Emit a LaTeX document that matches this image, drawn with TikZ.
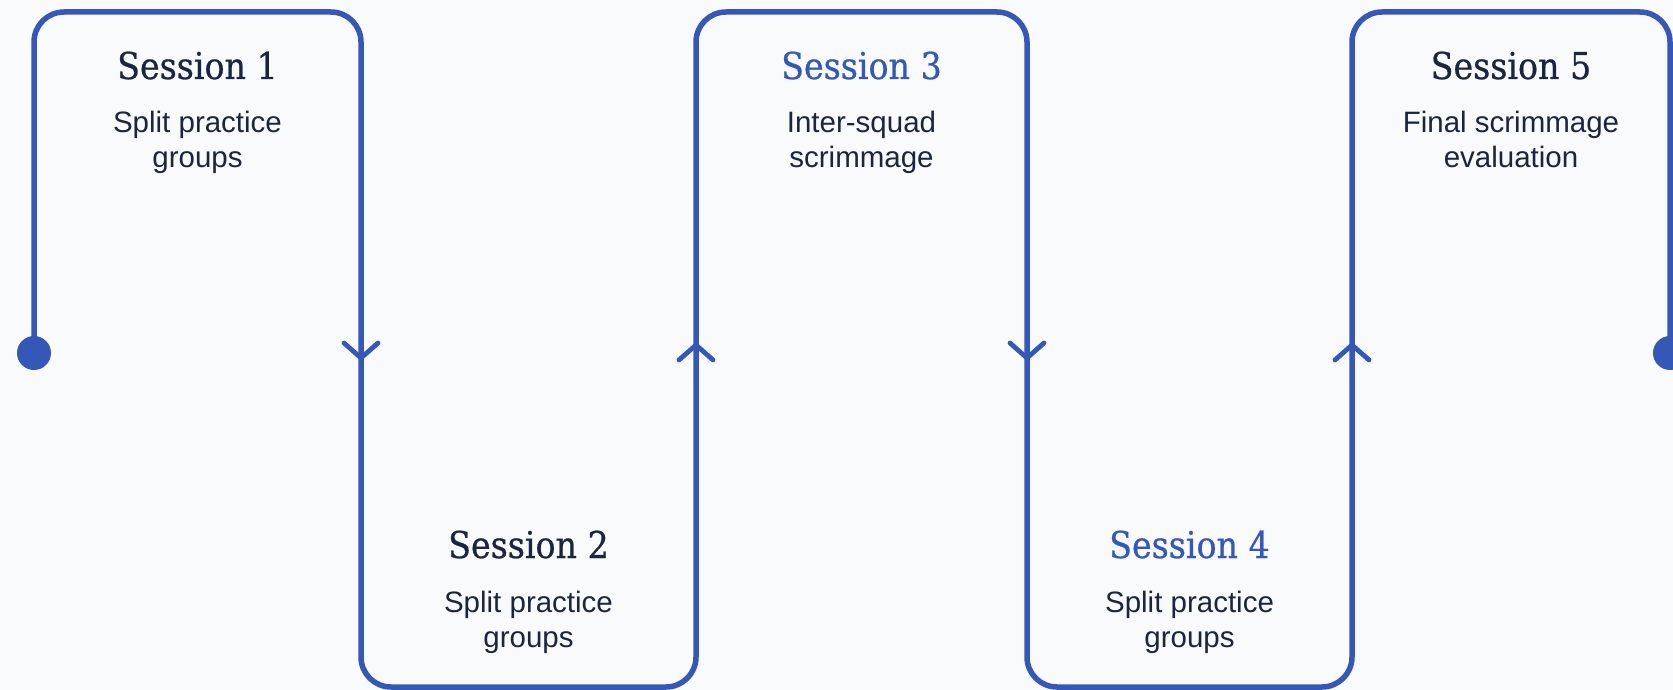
\documentclass[tikz,border=0pt]{standalone}
\usepackage{fontspec}
\setmainfont{Liberation Sans}
\newfontfamily\titlefont{DejaVu Serif}[FakeStretch=0.9,FakeBold=0.6]
\definecolor{trackblue}{HTML}{3558B8}
\definecolor{ink}{HTML}{1B2540}
\definecolor{bgc}{HTML}{F8FAFC}
\begin{document}
\begin{tikzpicture}[x=1pt,y=-1pt,
  track/.style={line width=5.5pt, draw=trackblue, line cap=round, line join=round},
  chev/.style={line width=4.8pt, draw=trackblue, line cap=round, line join=miter},
  titletxt/.style={font=\titlefont\fontsize{37}{44}\selectfont, text=ink, anchor=base, inner sep=0pt},
  desc/.style={font=\fontsize{29.5}{35.5}\selectfont, text=ink, align=center, anchor=base, inner sep=0pt}]
\fill[bgc] (0,0) rectangle (1673,690);
\useasboundingbox (0,0) rectangle (1673,690);
% track corners
\coordinate (s) at (34,353);
\coordinate (c1) at (34,12);
\coordinate (c2) at (361,12);
\coordinate (c3) at (361,687);
\coordinate (c4) at (696,687);
\coordinate (c5) at (696,12);
\coordinate (c6) at (1027,12);
\coordinate (c7) at (1027,687);
\coordinate (c8) at (1352,687);
\coordinate (c9) at (1352,12);
\coordinate (c10) at (1670,12);
\coordinate (e) at (1670,353);
\draw[track, rounded corners=30pt] (s) -- (c1) -- (c2) -- (c3) -- (c4) -- (c5) -- (c6) -- (c7) -- (c8) -- (c9) -- (c10) -- (e);
\fill[trackblue] (s) circle (17pt);
\fill[trackblue] (e) circle (17pt);
% direction chevrons
\coordinate (a1) at (361,358);
\coordinate (a2) at (696,345);
\coordinate (a3) at (1027,358);
\coordinate (a4) at (1352,345);
\draw[chev] ([shift={(-17,-15)}]a1) -- (a1) -- ([shift={(17,-15)}]a1);
\draw[chev] ([shift={(-17,15)}]a2) -- (a2) -- ([shift={(17,15)}]a2);
\draw[chev] ([shift={(-17,-15)}]a3) -- (a3) -- ([shift={(17,-15)}]a3);
\draw[chev] ([shift={(-17,15)}]a4) -- (a4) -- ([shift={(17,15)}]a4);
% texts (description nodes: base = baseline of last line)
\node[titletxt] (t1) at (197.5,79) {Session 1};
\node[desc] (d1) at (197.5,167.5) {Split practice\\groups};
\node[titletxt] (t2) at (528.5,558) {Session 2};
\node[desc] (d2) at (528.5,647.5) {Split practice\\groups};
\node[titletxt, text=trackblue] (t3) at (861.5,79) {Session 3};
\node[desc] (d3) at (861.5,167.5) {Inter-squad\\scrimmage};
\node[titletxt, text=trackblue] (t4) at (1189.5,558) {Session 4};
\node[desc] (d4) at (1189.5,647.5) {Split practice\\groups};
\node[titletxt] (t5) at (1511,79) {Session 5};
\node[desc] (d5) at (1511,167.5) {Final scrimmage\\evaluation};
\end{tikzpicture}
\end{document}
